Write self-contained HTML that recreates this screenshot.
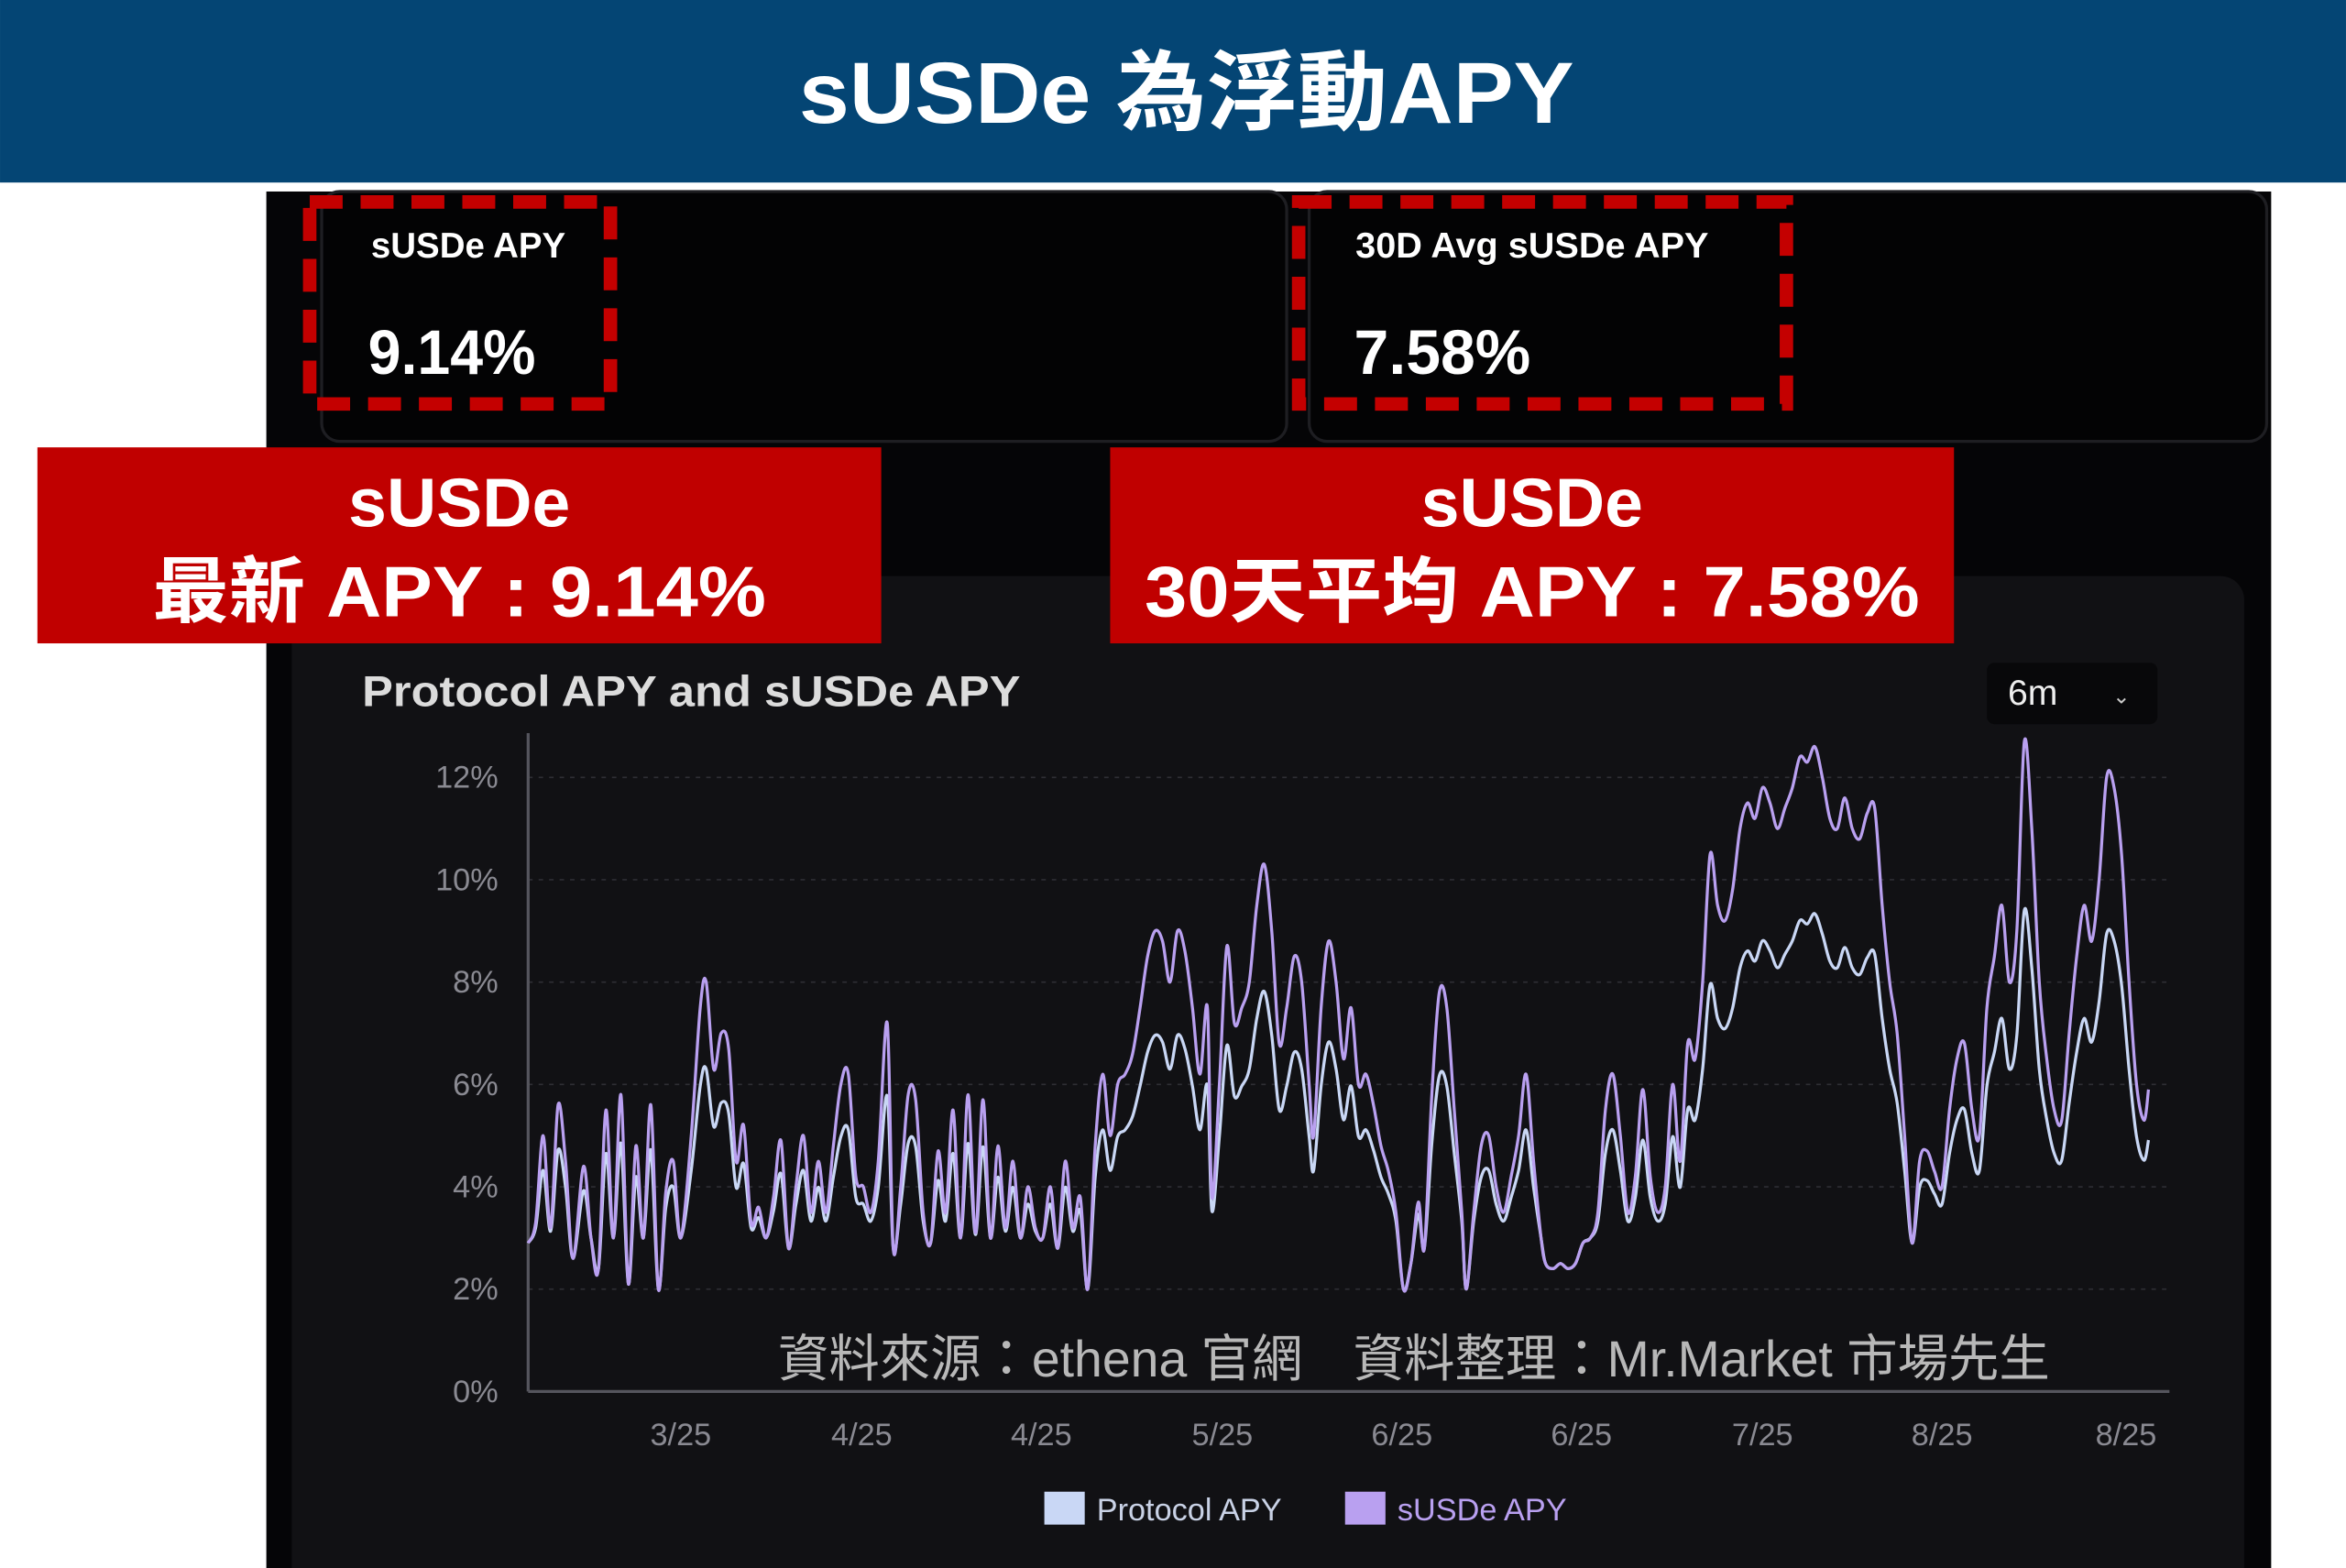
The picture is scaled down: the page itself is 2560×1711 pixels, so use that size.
<!DOCTYPE html>
<html><head><meta charset="utf-8">
<style>
html,body{margin:0;padding:0;background:#fff;}
svg{display:block;}
text{font-family:"Liberation Sans","Noto Sans CJK TC",sans-serif;}
</style></head>
<body>
<svg id="s" width="2560" height="1711" viewBox="0 0 1568 1048" xmlns="http://www.w3.org/2000/svg">
<rect x="0" y="0" width="1568" height="1048" fill="#ffffff"/>
<rect x="0" y="0" width="1568" height="122" fill="#044574"/>
<text x="793" y="82" text-anchor="middle" font-size="58" font-weight="bold" fill="#fff" textLength="518" lengthAdjust="spacingAndGlyphs">sUSDe 為浮動APY</text>
<rect x="178" y="128" width="1340" height="920" fill="#050507"/>
<rect x="215" y="128" width="645" height="167" rx="12" fill="#030304" stroke="#1e1e22" stroke-width="2"/>
<rect x="875" y="128" width="640" height="167" rx="12" fill="#030304" stroke="#1e1e22" stroke-width="2"/>
<rect x="195" y="385" width="1305" height="680" rx="16" fill="#111114"/>
<rect x="207" y="135" width="201" height="135" fill="none" stroke="#c40000" stroke-width="9" stroke-dasharray="22 12"/>
<rect x="868" y="135" width="326" height="135" fill="none" stroke="#c40000" stroke-width="9" stroke-dasharray="22 12"/>
<text x="248" y="172" font-size="24" font-weight="bold" fill="#fff" textLength="130" lengthAdjust="spacingAndGlyphs">sUSDe APY</text>
<text x="246" y="250" font-size="42" font-weight="bold" fill="#fff" textLength="112" lengthAdjust="spacingAndGlyphs">9.14%</text>
<text x="906" y="172" font-size="24" font-weight="bold" fill="#fff" textLength="236" lengthAdjust="spacingAndGlyphs">30D Avg sUSDe APY</text>
<text x="905" y="250" font-size="42" font-weight="bold" fill="#fff" textLength="118" lengthAdjust="spacingAndGlyphs">7.58%</text>
<rect x="25" y="299" width="564" height="131" fill="#c00000"/>
<rect x="742" y="299" width="564" height="131" fill="#c00000"/>
<text x="307" y="352" text-anchor="middle" font-size="46" font-weight="bold" fill="#fff">sUSDe</text>
<text x="307" y="412" text-anchor="middle" font-size="48" font-weight="bold" fill="#fff" textLength="410" lengthAdjust="spacingAndGlyphs">最新 APY : 9.14%</text>
<text x="1024" y="352" text-anchor="middle" font-size="46" font-weight="bold" fill="#fff">sUSDe</text>
<text x="1024" y="412" text-anchor="middle" font-size="48" font-weight="bold" fill="#fff" textLength="518" lengthAdjust="spacingAndGlyphs">30天平均 APY : 7.58%</text>
<text x="242" y="472" font-size="29" font-weight="bold" fill="#dcdcdc" textLength="440" lengthAdjust="spacingAndGlyphs">Protocol APY and sUSDe APY</text>
<rect x="1328" y="443" width="114" height="41" rx="5" fill="#08080a"/>
<text x="1342" y="471" font-size="24" fill="#eee">6m</text>
<text x="1412" y="470" font-size="14" fill="#ccc">⌄</text>
<g id="grid"></g>
<line x1="353" y1="490" x2="353" y2="930" stroke="#55555d" stroke-width="2"/>
<line x1="353" y1="930" x2="1450" y2="930" stroke="#55555d" stroke-width="2"/>
<g id="series"></g>
<text x="945" y="920" text-anchor="middle" font-size="34" fill="#b8b8b8" textLength="850" lengthAdjust="spacingAndGlyphs">資料來源：ethena 官網　資料整理：Mr.Market 市場先生</text>
<g font-size="21" fill="#8a8a92" text-anchor="middle">
<text x="455" y="966">3/25</text><text x="576" y="966">4/25</text><text x="696" y="966">4/25</text>
<text x="817" y="966">5/25</text><text x="937" y="966">6/25</text><text x="1057" y="966">6/25</text>
<text x="1178" y="966">7/25</text><text x="1298" y="966">8/25</text><text x="1421" y="966">8/25</text>
</g>
<rect x="698" y="997" width="27" height="22" fill="#c9d7f5"/>
<text x="733" y="1016" font-size="21" fill="#c9d2e6">Protocol APY</text>
<rect x="899" y="997" width="27" height="22" fill="#b9a0f0"/>
<text x="934" y="1016" font-size="21" fill="#b9a0f0">sUSDe APY</text>
</svg>
<script>
var NS="http://www.w3.org/2000/svg";
function Y(v){return 930-v*34.2;}
var g=document.getElementById('grid');
for(var i=0;i<=6;i++){var v=i*2;
 if(i>0){var l=document.createElementNS(NS,'line');l.setAttribute('x1',353);l.setAttribute('x2',1450);l.setAttribute('y1',Y(v));l.setAttribute('y2',Y(v));l.setAttribute('stroke','#2e2e34');l.setAttribute('stroke-dasharray','3 4');g.appendChild(l);}
 var t=document.createElementNS(NS,'text');t.setAttribute('x',333);t.setAttribute('y',Y(v)+7);t.setAttribute('text-anchor','end');t.setAttribute('font-size','21');t.setAttribute('fill','#8a8a92');t.textContent=v+'%';g.appendChild(t);}
var d=[353,2.9,358,3.3,363,5.0,368,3.2,373,5.6,378,4.5,383,2.6,390,4.4,395,3.0,400,2.4,405,5.5,410,3.0,415,5.8,420,2.1,425,4.8,430,3.0,435,5.6,440,2.0,445,3.9,450,4.5,455,3.0,462,5.0,468,7.5,472,8.0,477,6.3,482,7.0,487,6.7,492,4.5,497,5.2,502,3.3,507,3.6,512,3.0,517,3.8,522,4.9,527,2.8,532,4.0,537,5.0,542,3.5,547,4.5,552,3.5,557,4.8,562,6.0,567,6.2,572,4.2,577,4.0,582,3.5,587,4.5,593,7.2,597,2.8,602,4.0,607,5.8,612,5.7,617,3.5,622,2.9,627,4.7,632,3.5,637,5.5,642,3.0,647,5.8,652,3.1,657,5.7,662,3.0,667,4.8,672,3.2,677,4.5,682,3.0,687,4.0,692,3.2,697,3.0,702,4.0,707,2.8,712,4.5,717,3.2,722,3.8,727,2.0,732,4.8,737,6.2,742,5.0,747,6.0,752,6.2,757,6.6,762,7.5,767,8.5,772,9.0,777,8.8,782,8.0,787,9.0,792,8.6,797,7.5,802,6.2,807,7.5,810,3.8,815,6.0,820,8.7,825,7.2,830,7.5,835,8.0,840,9.5,845,10.3,850,9.0,855,6.8,860,7.5,865,8.5,870,8.0,875,6.0,878,5.0,883,7.5,888,8.8,893,8.0,898,6.5,903,7.5,908,6.0,913,6.2,918,5.6,923,4.8,928,4.3,933,3.5,938,2.0,943,2.5,948,3.7,952,2.8,957,5.8,962,7.8,967,7.5,972,5.5,977,3.5,980,2.0,985,3.5,990,4.8,995,5.0,1000,4.0,1005,3.5,1010,4.2,1015,5.0,1020,6.2,1025,4.5,1030,3.0,1033,2.5,1038,2.4,1043,2.5,1048,2.4,1053,2.5,1058,2.9,1063,3.0,1068,3.5,1073,5.5,1078,6.2,1083,5.0,1088,3.5,1093,4.2,1098,5.9,1103,4.2,1108,3.5,1113,4.0,1118,6.0,1123,4.5,1128,6.8,1133,6.5,1138,8.0,1143,10.5,1148,9.5,1153,9.2,1158,9.8,1163,11.0,1168,11.5,1173,11.2,1178,11.8,1183,11.5,1188,11.0,1193,11.4,1198,11.8,1203,12.4,1208,12.3,1213,12.6,1218,12.0,1223,11.2,1228,11.0,1233,11.6,1238,11.0,1243,10.8,1248,11.3,1253,11.4,1258,9.5,1263,8.0,1268,7.0,1273,5.0,1278,2.9,1283,4.5,1288,4.7,1293,4.3,1298,4.0,1303,5.5,1308,6.5,1313,6.8,1318,5.5,1323,5.0,1328,7.5,1333,8.5,1338,9.5,1343,8.0,1348,9.0,1353,12.7,1358,11.0,1363,8.0,1368,6.5,1373,5.5,1378,5.3,1383,7.0,1388,8.5,1393,9.5,1398,8.8,1403,10.0,1408,12.0,1413,11.8,1418,10.5,1423,8.0,1428,6.0,1433,5.3,1436,5.9];
function path(f){var p=[];for(var i=0;i<d.length;i+=2)p.push([d[i],Y(f(d[i+1]))]);
 var s='M'+p[0][0]+','+p[0][1];
 for(var i=0;i<p.length-1;i++){var p0=p[i>0?i-1:i],p1=p[i],p2=p[i+1],p3=p[i+2<p.length?i+2:i+1];
  s+=' C'+(p1[0]+(p2[0]-p0[0])/6)+','+(p1[1]+(p2[1]-p0[1])/6)+' '+(p2[0]-(p3[0]-p1[0])/6)+','+(p2[1]-(p3[1]-p1[1])/6)+' '+p2[0]+','+p2[1];}
 return s;}
var sg=document.getElementById('series');
function add(f,c){var e=document.createElementNS(NS,'path');e.setAttribute('d',path(f));e.setAttribute('fill','none');e.setAttribute('stroke',c);e.setAttribute('stroke-width','2');sg.appendChild(e);}
add(function(v){return v<3?v:3+(v-3)*0.66;},'#c9d7f5');
add(function(v){return v;},'#b9a0f0');
</script>
</body></html>
